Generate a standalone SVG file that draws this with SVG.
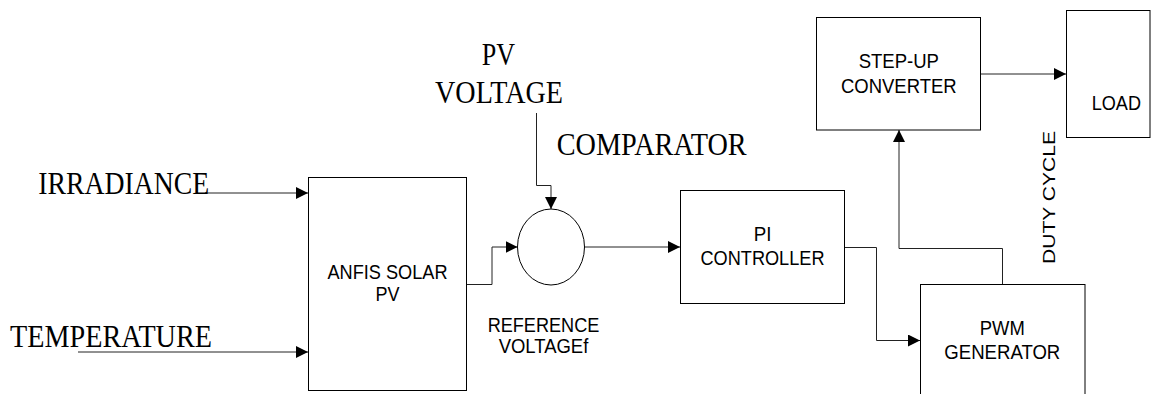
<svg xmlns="http://www.w3.org/2000/svg" width="1155" height="394" viewBox="0 0 1155 394">
<defs>
<style>
.box{fill:#fff;stroke:#000;stroke-width:1}
.ln{fill:none;stroke:#222;stroke-width:1}
.serif{font-family:"Liberation Serif","Times New Roman",serif;font-size:31px;fill:#000}
.sans{font-family:"Liberation Sans",Arial,sans-serif;font-size:21px;fill:#000}
.mid{text-anchor:middle}
</style>
<marker id="arr" markerUnits="userSpaceOnUse" markerWidth="12" markerHeight="12" refX="12" refY="6" orient="auto">
<path d="M0,0 L12,6 L0,12 z" fill="#000"/>
</marker>
</defs>
<rect width="1155" height="394" fill="#fff"/>
<g id="connectors">
<path class="ln" d="M205,193 H308" marker-end="url(#arr)"/>
<path class="ln" d="M78,352 H308" marker-end="url(#arr)"/>
<path class="ln" d="M467,284.5 H492 V247 H517.5" marker-end="url(#arr)"/>
<path class="ln" d="M536.5,113 V185.5 H551 V209" marker-end="url(#arr)"/>
<path class="ln" d="M584.5,247 H680" marker-end="url(#arr)"/>
<path class="ln" d="M845,247.5 H876.5 V340.5 H920" marker-end="url(#arr)"/>
<path class="ln" d="M1002.5,284.5 V248.5 H899 V130" marker-end="url(#arr)"/>
<path class="ln" d="M981,74 H1066" marker-end="url(#arr)"/>
</g>
<g id="irradiance"><text class="serif" x="38.3" y="194" textLength="171" lengthAdjust="spacingAndGlyphs">IRRADIANCE</text></g>
<g id="temperature"><text class="serif" x="10" y="347" textLength="202" lengthAdjust="spacingAndGlyphs">TEMPERATURE</text></g>
<g id="pv-voltage">
<text class="serif" x="481.7" y="65" textLength="33.3" lengthAdjust="spacingAndGlyphs">PV</text>
<text class="serif" x="435" y="102.7" textLength="128" lengthAdjust="spacingAndGlyphs">VOLTAGE</text>
</g>
<g id="anfis">
<rect class="box" x="308.5" y="177.5" width="158" height="213"/>
<text class="sans mid" x="387.5" y="279" textLength="120" lengthAdjust="spacingAndGlyphs">ANFIS SOLAR</text>
<text class="sans mid" x="387.5" y="301" textLength="24" lengthAdjust="spacingAndGlyphs">PV</text>
</g>
<g id="comparator">
<ellipse class="box" cx="551" cy="247" rx="33.5" ry="38"/>
<text class="serif" x="556.7" y="155" textLength="190" lengthAdjust="spacingAndGlyphs">COMPARATOR</text>
</g>
<g id="reference-voltage">
<text class="sans mid" x="543.5" y="332" textLength="111.7" lengthAdjust="spacingAndGlyphs">REFERENCE</text>
<text class="sans mid" x="543.5" y="352.7" textLength="89.7" lengthAdjust="spacingAndGlyphs">VOLTAGEf</text>
</g>
<g id="pi-controller">
<rect class="box" x="680.5" y="190.5" width="164" height="113"/>
<text class="sans mid" x="762.5" y="240.5" textLength="17.7" lengthAdjust="spacingAndGlyphs">PI</text>
<text class="sans mid" x="762.5" y="265" textLength="124" lengthAdjust="spacingAndGlyphs">CONTROLLER</text>
</g>
<g id="step-up-converter">
<rect class="box" x="816.5" y="17.5" width="164" height="112.5"/>
<text class="sans mid" x="898.8" y="68.3" textLength="80.3" lengthAdjust="spacingAndGlyphs">STEP-UP</text>
<text class="sans mid" x="898.8" y="92.7" textLength="115.7" lengthAdjust="spacingAndGlyphs">CONVERTER</text>
</g>
<g id="load">
<rect class="box" x="1066.5" y="10.5" width="83.5" height="127"/>
<text class="sans" x="1091.7" y="110" textLength="49.3" lengthAdjust="spacingAndGlyphs">LOAD</text>
</g>
<g id="pwm-generator">
<rect class="box" x="920.5" y="284.5" width="164.5" height="120"/>
<text class="sans mid" x="1002.3" y="335" textLength="45" lengthAdjust="spacingAndGlyphs">PWM</text>
<text class="sans mid" x="1002.3" y="359.3" textLength="116" lengthAdjust="spacingAndGlyphs">GENERATOR</text>
</g>
<g id="duty-cycle">
<text class="sans" style="font-size:16px" transform="translate(1055,264) rotate(-90)" x="0" y="0" textLength="133" lengthAdjust="spacingAndGlyphs">DUTY CYCLE</text>
</g>
</svg>
